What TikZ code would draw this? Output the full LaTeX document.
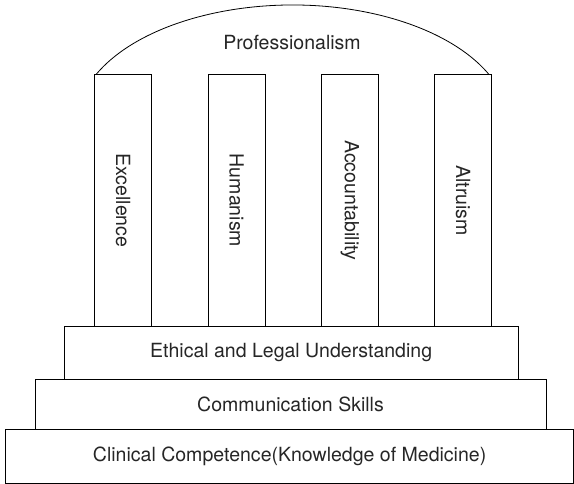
\documentclass[tikz,border=0pt]{standalone}
\usepackage{fontspec}
\setmainfont{TeX Gyre Heros}
\begin{document}
\begin{tikzpicture}[x=1bp,y=1bp,
  line width=0.8bp,
  lbl/.style={font=\fontsize{19.6}{23}\selectfont, text=black!85},
  pillar/.style={draw, lbl, minimum width=57bp, minimum height=252bp, inner sep=0pt},
  stepbox/.style={draw, lbl, inner sep=0pt}]
\useasboundingbox (0,0) rectangle (574,484);
% dome
\draw (96.5,410) arc[start angle=155, end angle=25, x radius=216.3, y radius=119.5];
\node[lbl] (prof) at (292,441) {Professionalism};
% steps
\node[stepbox, minimum width=567.8bp, minimum height=54bp] (clin) at (289.6,28) {Clinical Competence(Knowledge of Medicine)};
\node[stepbox, minimum width=511bp, minimum height=50bp] (comm) at (290.5,80) {Communication Skills};
\node[stepbox, minimum width=453.7bp, minimum height=53bp] (eth) at (291.15,131.5) {Ethical and Legal Understanding};
% pillars
\node[pillar] (p1) at (123.2,283.5) {\rotatebox{-90}{Excellence}};
\node[pillar] (p2) at (236.6,283.5) {\rotatebox{-90}{Humanism}};
\node[pillar] (p3) at (349.8,283.5) {\rotatebox{-90}{Accountability}};
\node[pillar] (p4) at (463.2,283.5) {\rotatebox{-90}{Altruism}};
\end{tikzpicture}
\end{document}
